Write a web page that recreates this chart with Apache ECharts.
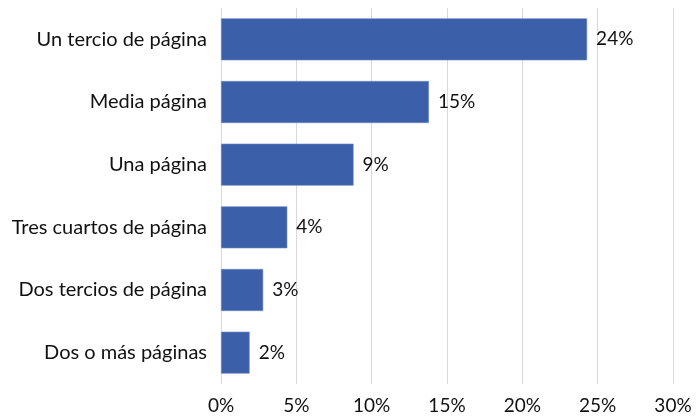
<html lang="es">
<head>
  <meta charset="utf-8"/>
  <script src="https://cdn.jsdelivr.net/npm/echarts@6/dist/echarts.min.js"></script>
  <style>
    html, body { margin: 0; padding: 0; background: #fff; }
    #chart { width: 697px; height: 417px; }
  </style>
</head>
<body>
<div id="chart"></div>
<script>
  // categorias de arriba hacia abajo
  var categorias = ['Un tercio de página', 'Media página', 'Una página',
    'Tres cuartos de página', 'Dos tercios de página', 'Dos o más páginas'];
  // longitud de barra (%)
  var valores = [24.3, 13.8, 8.8, 4.4, 2.8, 1.9];
  // etiquetas tal como aparecen
  var etiquetas = ['24%', '15%', '9%', '4%', '3%', '2%'];
  var ticksX = [0, 5, 10, 15, 20, 25, 30];

  var fuente = 'Lato, "Open Sans", sans-serif';
  var myChart = echarts.init(document.getElementById('chart'));
  var option = {
    animation: false,
    grid: { left: 221, right: 24, top: 8, bottom: 33, containLabel: false },
    xAxis: {
      type: 'value',
      min: ticksX[0],
      max: ticksX[ticksX.length - 1],
      interval: 5,
      axisLine: { show: false },
      axisTick: { show: false },
      axisLabel: {
        margin: 12,
        color: '#111',
        fontSize: 19,
        fontFamily: fuente,
        formatter: function (v) { return v + '%'; }
      },
      splitLine: { show: true, lineStyle: { color: '#d9d9d9', width: 1 } }
    },
    yAxis: {
      type: 'category',
      inverse: true,
      data: categorias,
      axisLine: { show: false },
      axisTick: { show: false },
      axisLabel: { margin: 14, color: '#111', fontSize: 20, fontFamily: fuente }
    },
    series: [{
      type: 'bar',
      data: valores,
      barCategoryGap: '33%',
      itemStyle: { color: '#3b5fa9', borderColor: '#6f8cc4', borderWidth: 0.6 },
      label: {
        show: true,
        position: 'right',
        distance: 9,
        color: '#111',
        fontSize: 19,
        fontFamily: fuente,
        formatter: function (p) { return etiquetas[p.dataIndex]; }
      }
    }]
  };
  myChart.setOption(option);
</script>
</body>
</html>
